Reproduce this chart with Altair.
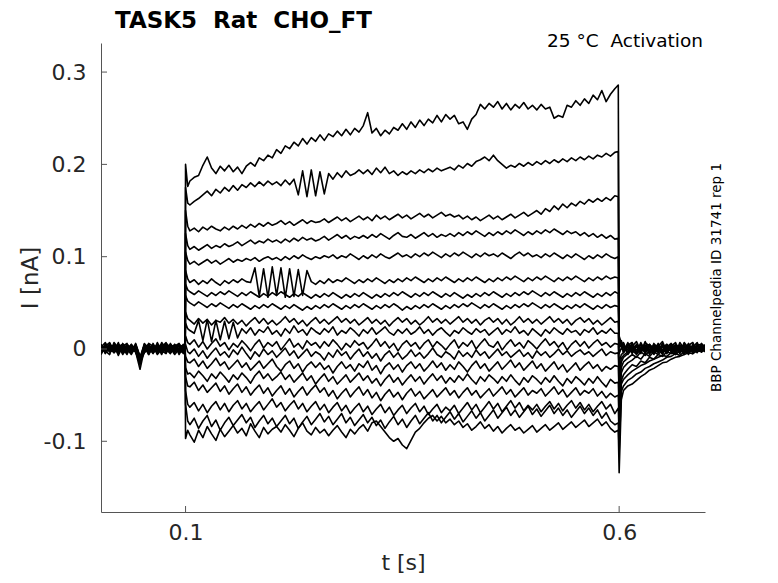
import sys
import altair as alt
import pandas as pd

# ---------------- data (time in ms, current in pA = 0.001 nA) ----------------
T_PRE_MS = [2.5, 7.5, 12.5, 17.5, 22.5, 27.5, 32.5, 37.5, 42.5, 47.5,
            52.5, 57.5, 62.5, 67.5, 72.5, 77.5, 82.5, 87.5, 92.5, 97.5, 99.5]
T_STEP_MS = [100, 102.5,
             105, 110, 115, 120, 125, 130, 135, 140, 145, 150,
             155, 160, 165, 170, 175, 180, 185, 190, 195, 200,
             205, 210, 215, 220, 225, 230, 235, 240, 245, 250,
             255, 260, 265, 270, 275, 280, 285, 290, 295, 300,
             305, 310, 315, 320, 325, 330, 335, 340, 345, 350,
             355, 360, 365, 370, 375, 380, 385, 390, 395, 400,
             405, 410, 415, 420, 425, 430, 435, 440, 445, 450,
             455, 460, 465, 470, 475, 480, 485, 490, 495, 500,
             505, 510, 515, 520, 525, 530, 535, 540, 545, 550,
             555, 560, 565, 570, 575, 580, 585, 590, 595,
             599]
T_POST_MS = [600, 602.5, 605, 610, 615, 620, 625, 630, 635, 640, 645,
             650, 655, 660, 665, 670, 675, 680, 685, 690, 695, 699]
T_MS = T_PRE_MS + T_STEP_MS + T_POST_MS

TRACE_01 = [
    5, -5, 6, -2, 7, -6, 1, 4, -3, -11, 3, -6, 6, -4, 2, 7, -3, 5, -6, 2, 0,
    200, 176,
    182, 186, 188, 199, 208, 196, 190, 198, 193, 199,
    192, 197, 190, 198, 202, 198, 207, 204, 210, 207,
    216, 212, 220, 217, 224, 220, 228, 222, 229, 225,
    232, 226, 233, 230, 236, 231, 238, 232, 239, 235,
    242, 256, 234, 239, 231, 237, 233, 240, 237, 244,
    238, 246, 240, 248, 242, 249, 245, 253, 246, 254,
    249, 253, 244, 246, 238, 249, 254, 265, 260, 266,
    262, 268, 260, 266, 259, 265, 261, 267, 260, 264,
    259, 265, 260, 262, 250, 253, 251, 264, 262, 269,
    264, 271, 266, 275, 270, 280, 268, 276, 282,
    286,
    14, 6, 5, -4, 6, -5, 7, -2, 4, -6, 3, 8, -3, 4, -5, 7, 0, -6, 5, -2, 6, 2,
]
TRACE_02 = [
    -5, 6, -2, 4, -7, 3, 6, -5, 1, -13, -3, 5, -4, 7, -2, -5, 6, -2, 4, -4, 1,
    175, 158,
    156, 160, 163, 167, 171, 166, 173, 169, 175, 171,
    177, 172, 178, 175, 180, 176, 181, 177, 182, 178,
    181, 177, 183, 178, 184, 167, 193, 165, 194, 166,
    192, 168, 190, 184, 191, 186, 193, 188, 190, 194,
    190, 194, 189, 196, 191, 197, 190, 193, 188, 192,
    189, 193, 190, 194, 191, 195, 192, 196, 193, 195,
    197, 194, 199, 196, 201, 198, 203, 205, 208, 204,
    210, 204, 200, 196, 199, 197, 201, 198, 202, 199,
    203, 200, 204, 201, 205, 202, 206, 203, 207, 204,
    208, 205, 209, 206, 210, 208, 212, 209, 213,
    214,
    10, 8, -3, 7, -5, 3, -4, 8, -6, 4, -2, 6, -5, 3, 7, -3, 5, -5, 2, 7, -3, 3,
]
TRACE_03 = [
    5, -2, -6, 7, 1, -5, 3, -4, 6, -9, 4, -6, 2, -3, 7, 0, -5, 3, 6, -2, -2,
    150, 133,
    128, 131, 127, 132, 129, 133, 130, 128, 132, 129,
    133, 130, 134, 131, 135, 132, 136, 133, 137, 134,
    136, 139, 135, 138, 134, 137, 140, 136, 139, 137,
    138, 141, 137, 140, 143, 139, 142, 138, 141, 144,
    140, 143, 139, 145, 141, 144, 140, 143, 146, 142,
    145, 141, 144, 147, 143, 146, 142, 145, 148, 144,
    146, 143, 145, 141, 144, 140, 143, 139, 142, 145,
    141, 144, 140, 143, 146, 142, 145, 148, 144, 147,
    150, 146, 152, 149, 155, 151, 157, 153, 158, 155,
    160, 157, 162, 159, 163, 160, 164, 161, 166,
    165,
    12, 4, 7, -5, 3, 8, -2, 4, -5, 6, 1, -6, 4, -2, 3, -5, 7, 1, -3, 4, 5, -2,
]
TRACE_04 = [
    -6, 3, 7, -3, 4, 1, -6, 5, -2, -15, -4, 6, 3, -6, 0, 5, 1, -6, 0, 5, 2,
    125, 112,
    108, 111, 107, 110, 113, 109, 112, 110, 114, 111,
    113, 116, 112, 115, 118, 114, 117, 115, 119, 116,
    118, 115, 119, 116, 120, 117, 121, 118, 120, 117,
    119, 122, 118, 121, 124, 120, 123, 119, 122, 120,
    123, 120, 124, 121, 125, 122, 119, 123, 126, 122,
    121, 124, 120, 123, 126, 122, 125, 121, 124, 122,
    125, 122, 126, 123, 127, 124, 128, 125, 122, 126,
    123, 127, 124, 128, 125, 129, 126, 123, 127, 124,
    128, 125, 129, 126, 130, 127, 124, 128, 125, 127,
    123, 126, 122, 125, 121, 124, 120, 123, 119,
    120,
    8, 7, -4, 4, 7, -4, 5, -5, 2, -2, 6, -4, 5, 0, -6, 4, -2, 6, -5, 3, -3, 5,
]
TRACE_05 = [
    2, 7, -3, 3, -5, 6, 0, -6, 4, -10, 6, 1, -5, 3, -6, 6, 2, -4, 5, -5, -1,
    105, 96,
    92, 95, 91, 94, 97, 93, 96, 92, 95, 98,
    94, 97, 95, 98, 96, 99, 95, 98, 100, 97,
    99, 96, 100, 97, 101, 98, 102, 99, 97, 100,
    98, 101, 99, 102, 98, 101, 99, 103, 100, 97,
    101, 98, 102, 99, 103, 100, 98, 101, 104, 100,
    102, 99, 103, 100, 104, 101, 105, 102, 99, 103,
    100, 104, 101, 105, 102, 99, 103, 100, 104, 101,
    103, 100, 104, 101, 98, 102, 105, 101, 104, 100,
    102, 99, 103, 100, 104, 101, 98, 102, 99, 103,
    100, 97, 101, 98, 102, 99, 103, 100, 98,
    100,
    6, 2, 6, -6, 1, 4, -5, 7, 3, -4, 4, -5, 2, 6, -2, 3, -6, 4, 7, -3, 2, 0,
]
TRACE_06 = [
    4, -3, 2, -4, 1, -2, 5, 1, -3, -22, 0, -2, 5, -1, 3, -2, 5, 1, -3, 4, 2,
    85, 76,
    72, 75, 70, 74, 71, 76, 72, 69, 74, 71,
    75, 72, 76, 73, 72, 88, 57, 87, 56, 89,
    58, 88, 56, 87, 57, 86, 58, 85, 73, 70,
    74, 71, 76, 72, 75, 73, 77, 74, 71, 75,
    72, 76, 73, 77, 74, 71, 75, 72, 76, 73,
    77, 74, 78, 75, 72, 76, 73, 77, 74, 78,
    75, 72, 76, 73, 77, 74, 78, 75, 72, 76,
    73, 77, 74, 78, 75, 79, 76, 73, 77, 74,
    78, 75, 79, 76, 73, 77, 74, 78, 75, 79,
    76, 73, 77, 74, 78, 75, 79, 76, 78,
    77,
    5, 9, 1, 2, -3, 5, 0, -2, 4, 1, -3, 5, -1, 2, 4, -3, 2, -1, 3, -4, 5, 2,
]
TRACE_07 = [
    -1, 3, -3, 4, -2, 5, -3, 2, 0, -12, 5, -4, 2, 1, -3, 1, -4, 3, 4, -2, 0,
    70, 64,
    62, 59, 63, 60, 57, 61, 58, 62, 59, 63,
    60, 57, 61, 58, 62, 59, 56, 60, 57, 61,
    58, 62, 59, 56, 60, 57, 61, 58, 55, 59,
    56, 60, 57, 61, 58, 55, 59, 56, 60, 57,
    61, 58, 55, 59, 56, 60, 57, 61, 58, 62,
    59, 56, 60, 57, 61, 58, 62, 59, 56, 60,
    57, 61, 58, 55, 59, 56, 60, 57, 61, 58,
    62, 59, 56, 60, 57, 61, 58, 62, 59, 63,
    60, 57, 61, 58, 62, 59, 56, 60, 57, 61,
    58, 62, 59, 56, 60, 57, 61, 58, 62,
    60,
    4, 3, -3, 4, 2, -1, 5, 1, -3, 4, -2, 2, 5, -3, 1, 4, -2, 3, -1, 5, -3, 1,
]
TRACE_08 = [
    2, -4, 1, -3, 4, -1, 3, -2, 5, -8, -3, 2, -1, 4, 1, -2, 3, -3, 1, 2, -1,
    58, 52,
    50, 47, 51, 48, 45, 49, 46, 50, 47, 44,
    48, 45, 49, 46, 43, 47, 44, 48, 45, 49,
    46, 43, 47, 44, 48, 45, 42, 46, 43, 47,
    44, 48, 45, 49, 46, 43, 47, 44, 48, 45,
    49, 46, 43, 47, 44, 48, 45, 49, 46, 42,
    46, 43, 47, 44, 48, 45, 49, 46, 43, 47,
    44, 48, 45, 49, 46, 50, 47, 44, 48, 45,
    49, 46, 43, 47, 44, 48, 45, 49, 46, 50,
    47, 44, 48, 45, 49, 46, 43, 47, 44, 48,
    45, 49, 46, 43, 47, 44, 48, 45, 47,
    46,
    2, 5, 2, -1, 6, -4, 2, -3, 5, 0, 4, -1, -3, 4, 2, -1, 5, -3, 2, 0, 3, -2,
]
TRACE_09 = [
    -3, 1, 4, 0, -4, 3, -2, 5, -1, -14, 1, 5, -4, 0, 4, -3, 1, 4, -2, -4, 1,
    40, 33,
    31, 27, 33, 28, 32, 26, 31, 29, 34, 28,
    32, 27, 31, 25, 30, 34, 28, 33, 27, 31,
    26, 30, 35, 29, 33, 27, 31, 25, 30, 34,
    28, 32, 27, 31, 35, 29, 33, 28, 32, 26,
    30, 34, 28, 32, 27, 31, 25, 30, 34, 29,
    33, 27, 31, 26, 30, 35, 29, 33, 28, 32,
    27, 31, 35, 29, 33, 28, 32, 26, 31, 34,
    29, 33, 27, 32, 26, 30, 35, 29, 33, 28,
    32, 27, 31, 35, 29, 33, 28, 32, 26, 31,
    34, 29, 33, 27, 31, 26, 30, 34, 29,
    30,
    -5, 1, -2, 5, -2, 3, -3, 4, -1, 2, -4, 3, 1, -2, 5, 1, -3, 4, 0, -2, 4, 1,
]
TRACE_10 = [
    5, -2, 0, 3, -1, -3, 4, -1, 2, -10, -4, 0, 3, -3, -2, 5, -1, 0, 4, 3, 2,
    28, 22,
    20, 17, 31, 9, 32, 8, 31, 10, 30, 11,
    29, 12, 22, 17, 23, 15, 21, 18, 24, 16,
    20, 14, 22, 17, 25, 18, 21, 15, 23, 19,
    16, 22, 18, 24, 15, 20, 17, 23, 19, 14,
    21, 17, 23, 16, 20, 24, 18, 15, 21, 17,
    22, 16, 19, 24, 17, 21, 15, 20, 23, 18,
    14, 20, 17, 23, 19, 16, 22, 18, 21, 15,
    19, 23, 16, 21, 18, 24, 17, 20, 15, 22,
    18, 14, 21, 17, 23, 19, 16, 22, 18, 20,
    15, 21, 18, 23, 16, 20, 17, 22, 17,
    17,
    -15, -6, -4, 2, -3, 4, -2, 1, 5, -3, 2, -1, 4, -2, 3, 0, -3, 4, 2, -1, 3, -2,
]
TRACE_11 = [
    0, 3, -3, 1, 4, 2, -4, 3, -3, -12, 2, -3, 1, 4, -4, 2, 4, -3, -1, 1, -2,
    14, 7,
    5, 10, 2, 8, 0, 6, 11, 3, 7, -1,
    6, 2, 9, 4, -2, 5, 10, 1, 7, 3,
    8, -1, 5, 11, 2, 6, 0, 9, 4, 7,
    1, 8, 3, 10, 5, -1, 6, 2, 9, 4,
    7, 0, 5, 11, 3, 8, 1, 6, -2, 5,
    9, 3, 7, 0, 6, 10, 2, 8, 4, -1,
    5, 10, 1, 7, 3, 9, 0, 6, 11, 4,
    2, 8, -1, 5, 10, 3, 7, 1, 9, 5,
    0, 6, 11, 4, 8, 2, 7, -1, 5, 9,
    3, 8, 1, 6, 10, 4, 7, 2, 6,
    5,
    -25, -10, -7, -3, 1, -4, 2, -2, 3, -1, 4, -3, 1, 5, -2, 2, 4, -3, 1, 3, -1, 2,
]
TRACE_12 = [
    -2, 0, 5, -4, 2, -1, 1, -4, 4, -9, -1, 3, -4, 2, 3, -1, -3, 2, 5, -3, 0,
    5, -3,
    -5, 0, -8, -2, -10, -4, 1, -7, -3, -9,
    -1, -6, 2, -5, -11, -3, -8, 0, -6, -2,
    -9, -4, 1, -7, -2, -10, -5, 0, -8, -3,
    -6, -12, -4, -9, -1, -7, -3, -11, -5, 0,
    -8, -3, -10, -5, -13, -6, -2, -9, -4, -11,
    -7, -1, -8, -4, -10, -5, 1, -6, -9, -3,
    -6, -11, -2, -8, -4, -9, -1, -7, -3, -10,
    -5, 0, -7, -3, -9, -5, -1, -8, -4, -10,
    -2, -7, -3, -9, -5, 0, -6, -2, -8, -4,
    -1, -6, -3, -8, -4, 0, -7, -3, -5,
    -4,
    -35, -14, -9, -5, -1, -6, 0, -3, 2, -4, 1, 3, -2, 1, -3, 4, -1, 2, -2, 5, 0, -3,
]
TRACE_13 = [
    3, -4, 1, 4, -3, 4, -2, 1, -2, -16, 3, -2, 4, -4, 1, 3, -1, 5, -2, 2, 1,
    -8, -14,
    -15, -11, -19, -13, -21, -16, -10, -18, -14, -22,
    -17, -12, -20, -15, -23, -18, -13, -21, -16, -11,
    -19, -24, -17, -13, -21, -16, -25, -18, -14, -20,
    -15, -22, -18, -26, -19, -14, -21, -17, -24, -16,
    -20, -13, -23, -18, -27, -19, -15, -22, -17, -25,
    -18, -14, -21, -16, -24, -19, -13, -20, -15, -23,
    -17, -22, -14, -19, -25, -18, -13, -21, -16, -24,
    -19, -14, -22, -17, -12, -20, -15, -23, -18, -13,
    -21, -16, -24, -19, -14, -22, -17, -25, -20, -15,
    -23, -18, -14, -21, -17, -24, -19, -22, -18,
    -19,
    -50, -20, -14, -10, -6, -9, -3, -7, -2, -5, 0, -3, 2, -2, 1, -4, 3, -1, 2, -3, 1, 0,
]
TRACE_14 = [
    -1, 4, -2, -3, 5, -3, 3, -1, 3, -11, -2, 4, 0, 3, -2, -4, 3, -2, 1, -1, -2,
    -20, -27,
    -26, -31, -24, -29, -35, -27, -32, -25, -30, -36,
    -28, -33, -26, -31, -37, -29, -24, -32, -27, -34,
    -30, -25, -33, -28, -36, -31, -26, -34, -29, -38,
    -32, -27, -35, -30, -38, -33, -28, -36, -31, -26,
    -34, -29, -37, -32, -40, -33, -28, -36, -31, -39,
    -33, -28, -35, -30, -38, -32, -27, -34, -29, -37,
    -31, -36, -29, -34, -27, -33, -38, -30, -35, -28,
    -32, -37, -30, -35, -28, -34, -39, -31, -36, -29,
    -33, -38, -31, -36, -29, -35, -40, -32, -37, -30,
    -34, -39, -32, -37, -30, -36, -41, -33, -37,
    -36,
    -65, -26, -20, -15, -12, -8, -11, -5, -8, -3, -6, -1, -4, 1, -2, 2, -3, 0, 3, -2, 1, -1,
]
TRACE_15 = [
    4, -1, 3, 2, -2, 1, -3, 4, -4, -13, 4, -1, 2, -2, 5, 1, -4, 1, -3, 4, 1,
    -30, -40,
    -41, -36, -45, -39, -47, -42, -37, -46, -40, -49,
    -43, -38, -47, -41, -50, -44, -39, -48, -42, -51,
    -45, -40, -49, -43, -52, -46, -41, -50, -44, -39,
    -47, -42, -51, -45, -54, -48, -43, -52, -46, -41,
    -50, -44, -53, -47, -56, -49, -44, -52, -47, -55,
    -48, -43, -51, -46, -54, -49, -44, -52, -47, -42,
    -50, -45, -53, -47, -42, -50, -45, -53, -48, -43,
    -51, -46, -41, -49, -44, -52, -47, -42, -50, -45,
    -48, -43, -51, -46, -41, -49, -44, -52, -47, -42,
    -50, -45, -48, -43, -51, -46, -53, -48, -52,
    -50,
    -80, -34, -28, -22, -17, -19, -13, -15, -9, -11, -6, -8, -3, -5, 0, -3, 2, -2, 1, -3, 2, 0,
]
TRACE_16 = [
    -3, 2, -1, 5, 0, -2, 4, -3, 1, -10, -1, 2, -3, 5, -1, -2, 2, 4, -1, -2, 0,
    -45, -60,
    -63, -58, -67, -60, -69, -62, -57, -66, -59, -68,
    -61, -56, -65, -59, -68, -62, -57, -66, -60, -54,
    -63, -58, -67, -61, -56, -65, -59, -68, -62, -57,
    -66, -60, -69, -63, -58, -67, -61, -70, -64, -59,
    -68, -62, -71, -65, -60, -69, -63, -72, -66, -61,
    -70, -64, -59, -68, -62, -71, -65, -60, -69, -63,
    -67, -61, -70, -64, -58, -66, -60, -69, -63, -57,
    -65, -59, -68, -62, -56, -64, -58, -67, -61, -66,
    -60, -68, -62, -57, -65, -59, -67, -61, -56, -64,
    -58, -66, -60, -68, -62, -57, -65, -60, -70,
    -64,
    -95, -38, -33, -28, -24, -21, -18, -16, -13, -11, -9, -7, -8, -4, -6, -2, -4, 1, -2, 0, -3, 1,
]
TRACE_17 = [
    1, -3, 4, -2, 3, 5, -1, 2, -3, -17, 3, -4, 1, -1, 3, 4, -3, -1, 3, 0, -1,
    -60, -78,
    -82, -75, -86, -78, -72, -84, -77, -88, -80, -74,
    -83, -77, -71, -80, -74, -85, -78, -72, -81, -75,
    -84, -78, -72, -81, -75, -86, -79, -73, -82, -76,
    -70, -79, -73, -82, -76, -70, -80, -74, -83, -77,
    -71, -80, -74, -83, -77, -86, -79, -73, -82, -76,
    -85, -78, -72, -81, -75, -69, -78, -72, -80, -74,
    -68, -76, -70, -79, -73, -67, -75, -69, -78, -72,
    -66, -75, -69, -63, -72, -66, -74, -68, -62, -71,
    -65, -73, -67, -61, -70, -64, -72, -66, -74, -68,
    -62, -70, -64, -72, -66, -75, -69, -78, -82,
    -80,
    -112, -46, -40, -34, -31, -27, -25, -21, -19, -16, -14, -12, -9, -8, -5, -7, -3, -4, -1, -3, 0, -2,
]
TRACE_18 = [
    -2, 4, -2, 1, -4, 0, 2, -2, 3, -12, 0, 1, -2, 3, -4, 2, 0, 3, -4, 2, 1,
    -97, -88,
    -93, -101, -88, -96, -84, -92, -99, -87, -95, -89,
    -83, -91, -86, -94, -81, -89, -96, -85, -92, -87,
    -84, -90, -82, -88, -95, -86, -80, -89, -93, -85,
    -91, -87, -94, -88, -83, -90, -96, -87, -92, -86,
    -82, -89, -80, -78, -84, -90, -96, -100, -97, -104,
    -108, -99, -90, -86, -80, -75, -72, -78, -73, -80,
    -76, -82, -78, -85, -81, -88, -84, -79, -86, -82,
    -89, -84, -91, -86, -82, -88, -85, -91, -87, -83,
    -90, -86, -82, -88, -84, -80, -87, -83, -79, -85,
    -81, -77, -84, -80, -76, -83, -79, -86, -90,
    -88,
    -134, -55, -45, -40, -38, -34, -30, -27, -23, -21, -18, -15, -14, -11, -9, -8, -6, -4, -5, -2, -3, -1,
]
TRACES = [TRACE_01, TRACE_02, TRACE_03, TRACE_04, TRACE_05, TRACE_06,
          TRACE_07, TRACE_08, TRACE_09, TRACE_10, TRACE_11, TRACE_12,
          TRACE_13, TRACE_14, TRACE_15, TRACE_16, TRACE_17, TRACE_18]

X_TICKS = [0.1, 0.6]
Y_TICKS = [-0.1, 0, 0.1, 0.2, 0.3]
TITLE = "TASK5\u00a0\u00a0Rat\u00a0\u00a0CHO_FT"
CONDITION = "25\u00a0°C\u00a0\u00a0Activation"
SIDE_NOTE = "BBP Channelpedia ID 31741 rep 1"

rows = []
for k, tr in enumerate(TRACES, start=1):
    if len(tr) != len(T_MS):
        print(f"trace {k}: {len(tr)} values vs {len(T_MS)} times", file=sys.stderr)
    for t, v in zip(T_MS, tr):
        rows.append({"t": t / 1000.0, "I": v / 1000.0, "trace": k})
df = pd.DataFrame(rows)

# ---------------- chart ----------------
W, H = 604, 469
FONT = "DejaVu Sans"
AX = "#555555"
TXT = "#262626"

XS = alt.Scale(domain=[0.0025, 0.699], nice=False, zero=False)
YS = alt.Scale(domain=[-0.1766, 0.3315], nice=False, zero=False)

X_AXIS = alt.Axis(values=X_TICKS, labelExpr="'' + datum.value",
                  title="t [s]", ticks=False, grid=False,
                  domainColor=AX, domainWidth=1,
                  labelFont=FONT, labelFontSize=22, labelColor=TXT,
                  labelPadding=10,
                  titleFont=FONT, titleFontSize=22, titleFontWeight="normal",
                  titleColor=TXT, titleX=W / 2, titleY=57,
                  titleBaseline="alphabetic", titleAlign="center")
Y_AXIS = alt.Axis(values=Y_TICKS, labelExpr="'' + datum.value",
                  title="I [nA]", ticks=False, grid=False,
                  domainColor=AX, domainWidth=1,
                  labelFont=FONT, labelFontSize=22, labelColor=TXT,
                  labelPadding=15,
                  titleFont=FONT, titleFontSize=23, titleFontWeight="normal",
                  titleColor=TXT, titleX=-71, titleY=H / 2,
                  titleAngle=270, titleBaseline="middle", titleAlign="center")

lines = alt.Chart(df).mark_line(color="black", strokeWidth=1.6, clip=True,
                                strokeJoin="round").encode(
    x=alt.X("t:Q", scale=XS, axis=X_AXIS),
    y=alt.Y("I:Q", scale=YS, axis=Y_AXIS),
    detail="trace:N",
)

ytick = alt.Chart(pd.DataFrame({"I": Y_TICKS})).mark_rule(
    color=AX, strokeWidth=1).encode(
    y=alt.Y("I:Q", scale=YS, axis=Y_AXIS), x=alt.value(0), x2=alt.value(6))
xtick = alt.Chart(pd.DataFrame({"t": X_TICKS})).mark_rule(
    color=AX, strokeWidth=1).encode(
    x=alt.X("t:Q", scale=XS, axis=X_AXIS), y=alt.value(H), y2=alt.value(H - 6))

title_txt = alt.Chart(pd.DataFrame({"s": [TITLE]})).mark_text(
    font=FONT, fontSize=23, fontWeight="bold", align="left",
    baseline="alphabetic", color="black").encode(
    text="s:N", x=alt.value(14), y=alt.value(-15))
cond_txt = alt.Chart(pd.DataFrame({"s": [CONDITION]})).mark_text(
    font=FONT, fontSize=18.5, align="right", baseline="alphabetic",
    color="black").encode(text="s:N", x=alt.value(602), y=alt.value(4))
side_txt = alt.Chart(pd.DataFrame({"s": [SIDE_NOTE]})).mark_text(
    font=FONT, fontSize=13.5, align="center", baseline="middle", angle=270,
    color="black").encode(text="s:N", x=alt.value(615.5), y=alt.value(H / 2))

chart = alt.layer(lines, ytick, xtick, title_txt, cond_txt, side_txt).properties(
    width=W, height=H,
    padding={"left": 93, "top": 35, "right": 65, "bottom": 63},
    autosize=alt.AutoSizeParams(type="none"),
).configure_view(strokeWidth=0)

chart.save("out.html", embed_options={"renderer": "svg", "actions": False})
